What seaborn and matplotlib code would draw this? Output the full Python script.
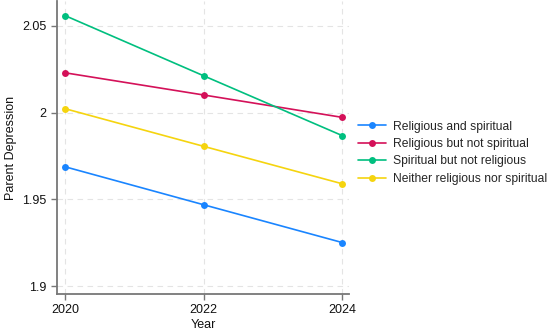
import seaborn as sns
import matplotlib.pyplot as plt
import pandas as pd

OUTPUT_IMAGE = "out.png"

years = [2020, 2022, 2024]
groups = ["Religious and spiritual", "Religious but not spiritual",
          "Spiritual but not religious", "Neither religious nor spiritual"]
rel_spir = [1.9688, 1.9469, 1.9251]
rel_not_spir = [2.0230, 2.0102, 1.9973]
spir_not_rel = [2.0560, 2.0213, 1.9868]
neither = [2.0023, 1.9806, 1.9590]
colors = ["#1a85ff", "#d41159", "#00bf7f", "#f5d40f"]
y_ticks = [1.9, 1.95, 2.0, 2.05]
y_labels = ["1.9", "1.95", "2", "2.05"]

rows = []
for g, vals in zip(groups, [rel_spir, rel_not_spir, spir_not_rel, neither]):
    for yr, v in zip(years, vals):
        rows.append({"Year": yr, "Parent Depression": v, "group": g})
df = pd.DataFrame(rows)

sns.set_style("white")
plt.rcParams['font.family'] = ['Liberation Sans', 'DejaVu Sans']

fig = plt.figure(figsize=(5.5, 3.35), dpi=100)
ax = fig.add_axes([57 / 550, 41 / 335, 292 / 550, 293 / 335])
sns.lineplot(data=df, x="Year", y="Parent Depression", hue="group",
             hue_order=groups, palette=colors, marker="o", markersize=5,
             markeredgewidth=0, linewidth=1.2, ax=ax)

ax.set_xlim(2019.885, 2024.1)
ax.set_ylim(1.8954, 2.0644)
ax.set_xticks(years)
ax.set_xticklabels([str(y) for y in years])
ax.set_yticks(y_ticks)
ax.set_yticklabels(y_labels)
ax.grid(True, color="#e4e4e4", linestyle=(0, (5, 4)), linewidth=0.8)
for s in ["top", "right"]:
    ax.spines[s].set_visible(False)
for s in ["left", "bottom"]:
    ax.spines[s].set_color("#777777")
    ax.spines[s].set_linewidth(1.3)
ax.tick_params(axis="both", direction="out", length=4, width=1,
               color="#777777", labelsize=9, labelcolor="#111111",
               left=True, bottom=True)
ax.set_xlabel("Year", fontsize=9, color="#111111", labelpad=2)
ax.set_ylabel("Parent Depression", fontsize=9, color="#111111")

ax.legend(title=None, frameon=False, loc="center left",
          bbox_to_anchor=(358 / 550, 0.544), bbox_transform=fig.transFigure,
          borderaxespad=0, borderpad=0, fontsize=8.7, handlelength=2.3,
          handletextpad=0.6, labelspacing=0.45)

plt.savefig(OUTPUT_IMAGE)
